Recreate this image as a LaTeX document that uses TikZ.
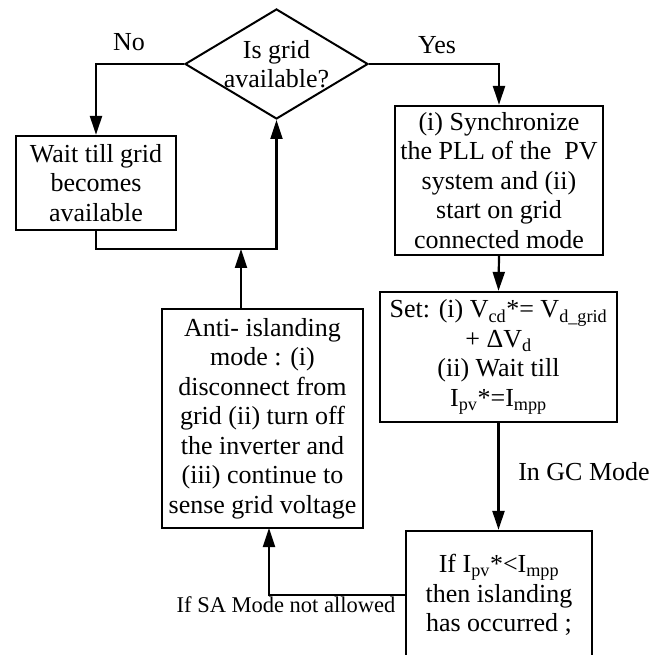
\documentclass[tikz,border=0pt]{standalone}
\usepackage{fontspec}
\setmainfont{Liberation Serif}
\usetikzlibrary{shapes.geometric,arrows.meta}
\begin{document}
\begin{tikzpicture}[x=1pt,y=-1pt,
	font=\fontsize{26}{29.5}\selectfont,
	box/.style={draw,line width=2.3pt,align=center,inner sep=0pt},
	flow/.style={line width=2.2pt,-{Triangle[length=19pt,width=12pt]}},
	tag/.style={inner sep=0pt}]
	\useasboundingbox (0,0) rectangle (665,655);
	\clip (0,0) rectangle (665,655);
	\node[draw,diamond,line width=2pt,inner sep=0pt,minimum width=183pt,minimum height=110pt,
		label={[align=center]center:{Is grid\\available?}}] (grid) at (276.5,64) {};
	\node[box,minimum width=160pt,minimum height=94pt] (wait) at (96,183) {Wait till grid\\becomes\\available};
	\node[box,minimum width=208pt,minimum height=149pt] (sync) at (499,180.5) {(i) Synchronize\\the PLL of the\ \ PV\\system and (ii)\\start on grid\\connected mode};
	\node[box,minimum width=237pt,minimum height=130pt] (set) at (498.5,357) {Set: (i) V\textsubscript{cd}*= V\textsubscript{d\_grid}\\+ ΔV\textsubscript{d}\\(ii) Wait till\\I\textsubscript{pv}*=I\textsubscript{mpp}};
	\node[box,minimum width=201pt,minimum height=219pt] (anti) at (262.5,418.5) {Anti- islanding\\mode : (i)\\disconnect from\\grid (ii) turn off\\the inverter and\\(iii) continue to\\sense grid voltage};
	\node[box,minimum width=186pt,minimum height=128pt] (occur) at (499,595) {If I\textsubscript{pv}*<I\textsubscript{mpp}\\then islanding\\has occurred ;};
	\node[tag] (no) at (129,42) {No};
	\node[tag] (yes) at (437,45) {Yes};
	\node[tag] (gc) at (584,472) {In GC Mode};
	\node[tag,font=\fontsize{22.5}{25}\selectfont] (sa) at (286,605) {If SA Mode not allowed};
	\coordinate (join) at (276.5,249);
	\coordinate (up) at (241,249);
	\coordinate (back) at (269,528);
	\draw[flow] (grid.west) -| (wait.north);
	\draw[flow] (grid.east) -| (sync.north);
	\draw[flow] (wait.south) |- (join) -- (grid.south);
	\draw[flow] (anti.north -| up) -- (up);
	\draw[flow] (sync.south) -- (set.north);
	\draw[flow] (set.south) -- (set.south |- occur.north);
	\draw[flow] (occur.west) -| (back);
\end{tikzpicture}
\end{document}
